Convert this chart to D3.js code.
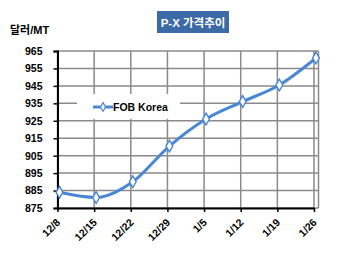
<!DOCTYPE html>
<html><head><meta charset="utf-8">
<script src="https://cdn.jsdelivr.net/npm/d3@7"></script>
<style>body{margin:0;background:#fff}svg{display:block}text{font-family:"Liberation Sans",Arial,"Noto Sans CJK KR",sans-serif;font-weight:bold}</style>
</head><body>
<script>
const categories = ["12/8","12/15","12/22","12/29","1/5","1/12","1/19","1/26"];
const fobKorea = [884, 881, 890, 910.5, 926, 936, 945.5, 961];
const yTicks = [875,885,895,905,915,925,935,945,955,965];
const seriesName = "FOB Korea";
const title = "P-X 가격추이";
const unitLabel = "달러/MT";

const W = 350, H = 257;
const svg = d3.select("body").append("svg").attr("width", W).attr("height", H);
const blue = "#4A86D6", grid = "#8a8a8a";

const xGrid = d3.scalePoint().domain(categories).range([57.5, 314]);
const x = d => xGrid(d) + 2;
const y = d3.scaleLinear().domain([875, 965]).range([208, 51]);
const plotRight = 318.5;

// gridlines
svg.append("g").selectAll("line.h").data(yTicks).join("line")
  .attr("x1", 57.5).attr("x2", plotRight).attr("y1", d => y(d)).attr("y2", d => y(d))
  .attr("stroke", grid).attr("stroke-width", 1.5);
svg.append("g").selectAll("line.v").data(categories).join("line")
  .attr("x1", d => xGrid(d)).attr("x2", d => xGrid(d)).attr("y1", 51).attr("y2", 208)
  .attr("stroke", grid).attr("stroke-width", 1.5);
svg.append("line").attr("x1", plotRight).attr("x2", plotRight).attr("y1", 51).attr("y2", 208)
  .attr("stroke", grid).attr("stroke-width", 1.5);

// legend box (hides gridlines)
const lg = svg.append("g");
lg.append("rect").attr("x", 77).attr("y", 94).attr("width", 103).attr("height", 25).attr("fill", "#fff");
lg.append("line").attr("x1", 93).attr("x2", 113).attr("y1", 107).attr("y2", 107).attr("stroke", blue).attr("stroke-width", 3);
lg.append("path").attr("d", d3.symbol(d3.symbolDiamond, 22)()).attr("transform", "translate(103,107)")
  .attr("fill", "#fff").attr("stroke", blue).attr("stroke-width", 1.2);
lg.append("text").attr("x", 113).attr("y", 111).attr("font-size", 10.5).attr("fill", "#000").text(seriesName);

// axes
const yAxis = svg.append("g").attr("transform", "translate(57.5,0)")
  .call(d3.axisLeft(y).tickValues(yTicks).tickSize(4).tickPadding(11));
yAxis.select(".domain").attr("stroke", "#000").attr("stroke-width", 2);
yAxis.selectAll(".tick line").attr("stroke", "#000").attr("stroke-width", 1.5);
yAxis.selectAll("text").attr("font-size", 10.5).attr("fill", "#000").style("font-family", "Liberation Sans, Arial").style("font-weight", "bold");

const xAxis = svg.append("g").attr("transform", "translate(0,208)")
  .call(d3.axisBottom(xGrid).tickSize(4).tickSizeOuter(0));
xAxis.select(".domain").attr("stroke", "#000").attr("stroke-width", 2);
xAxis.selectAll(".tick line").attr("stroke", "#000").attr("stroke-width", 1.5);
xAxis.selectAll("text").attr("font-size", 10.5).attr("fill", "#000")
  .style("font-family", "Liberation Sans, Arial").style("font-weight", "bold")
  .attr("text-anchor", "end").attr("dy", null).attr("y", 0)
  .attr("transform", "translate(3,15) rotate(-45)");

// line
const line = d3.line().x((d, i) => x(categories[i])).y(d => y(d)).curve(d3.curveMonotoneX);
svg.append("path").datum(fobKorea).attr("d", line).attr("fill", "none")
  .attr("stroke", blue).attr("stroke-width", 3);
svg.append("g").selectAll("path").data(fobKorea).join("path")
  .attr("d", d3.symbol(d3.symbolDiamond, 40)())
  .attr("transform", (d, i) => `translate(${x(categories[i])},${y(d)})`)
  .attr("fill", "#fff").attr("stroke", blue).attr("stroke-width", 1.4);

// title
svg.append("rect").attr("x", 157).attr("y", 11).attr("width", 72).attr("height", 22).attr("fill", "#3B6AA6");
svg.append("text").attr("x", 193).attr("y", 26.5).attr("text-anchor", "middle").attr("font-size", 11.5)
  .attr("fill", "#fff").text(title);

// unit label
svg.append("text").attr("x", 10).attr("y", 34).attr("font-size", 11).attr("fill", "#000").text(unitLabel);
</script>
</body></html>
